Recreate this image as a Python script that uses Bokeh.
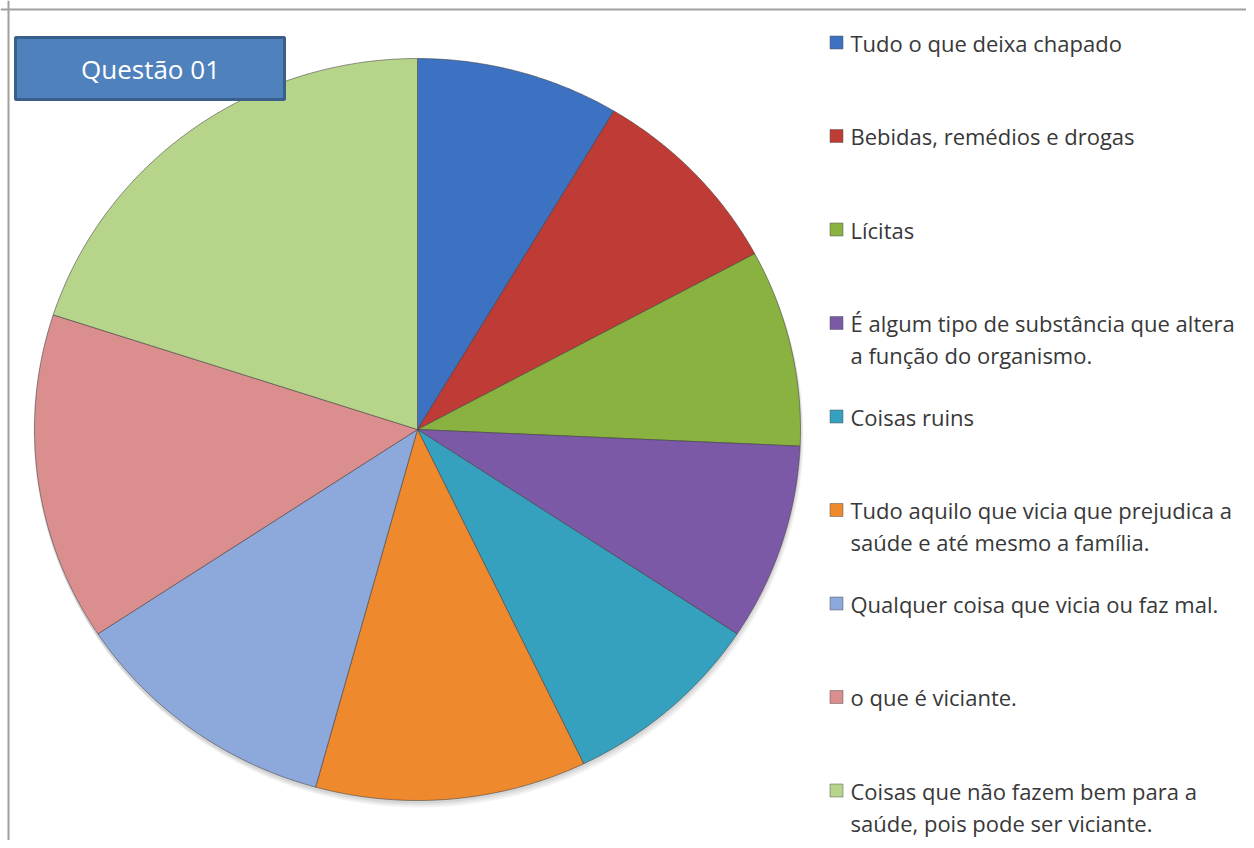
import numpy as np
from bokeh.plotting import figure
from bokeh.models import Range1d, Span
from bokeh.core.properties import value
from bokeh.embed import file_html
from bokeh.resources import INLINE

# ---- data ----
categories = [
    "Tudo o que deixa chapado",
    "Bebidas, remédios e drogas",
    "Lícitas",
    "É algum tipo de substância que altera\na função do organismo.",
    "Coisas ruins",
    "Tudo aquilo que vicia que prejudica a\nsaúde e até mesmo a família.",
    "Qualquer coisa que vicia ou faz mal.",
    "o que é viciante.",
    "Coisas que não fazem bem para a\nsaúde, pois pode ser viciante.",
]
counts = [3, 3, 3, 3, 3, 4, 4, 5, 7]
colors = ["#3D71C2", "#BE3B36", "#8AB240", "#7B59A6", "#35A1BE",
          "#EF892D", "#8DA8DA", "#DB8E8E", "#B7D48B"]
title_text = "Questão 01"

W, H = 1246, 840
p = figure(width=W, height=H, output_backend="svg", toolbar_location=None,
           x_range=Range1d(0, W), y_range=Range1d(H, 0),
           min_border=0, outline_line_color=None, background_fill_color="white")
p.axis.visible = False
p.grid.visible = False

# chart border (left/top)
p.add_layout(Span(location=8, dimension="height", line_color="#A0A0A0", line_width=2))
p.add_layout(Span(location=9, dimension="width", line_color="#A0A0A0", line_width=2))

# pie geometry (slightly elliptical, like the Excel original)
cx, cy, rx, ry = 417, 429, 383, 371

# soft shadow
for dx, dy, a in [(2, 6, 0.10), (1, 4, 0.12), (0, 2, 0.15)]:
    p.ellipse(x=cx + dx, y=cy + dy, width=2 * rx + 2, height=2 * ry + 2,
              fill_color="#808080", fill_alpha=a, line_color=None)

vals = np.array(counts, dtype=float)
frac_end = np.cumsum(vals) / vals.sum()
frac_start = frac_end - vals / vals.sum()
xs, ys = [], []
for f0, f1 in zip(frac_start, frac_end):
    th = np.linspace(f0, f1, 80) * 2 * np.pi
    xs.append([cx] + list(cx + rx * np.sin(th)))
    ys.append([cy] + list(cy - ry * np.cos(th)))
p.patches(xs, ys, fill_color=colors, line_color="#404040", line_alpha=0.55, line_width=1)

# title box
p.quad(left=15, right=284, top=37, bottom=99, fill_color="#4F81BD",
       line_color="#3A5F8C", line_width=3)
p.text(x=[150], y=[68], text=[title_text], text_align="center", text_baseline="middle",
       text_color="white", text_font=value("Open Sans"), text_font_size="26px")

# legend
lx_m, lx_t = 836, 850
y0, step, lh = 42, 93.5, 32
for i, (lab, c) in enumerate(zip(categories, colors)):
    yy = y0 + i * step
    p.rect(x=lx_m, y=yy, width=13, height=13, fill_color=c, line_color="#555555",
           line_alpha=0.5, line_width=1)
    for j, line in enumerate(lab.split("\n")):
        p.text(x=[lx_t], y=[yy + j * lh], text=[line], text_baseline="middle",
               text_color="#383838", text_font=value("Open Sans"), text_font_size="22px")

open("out.html", "w").write(file_html(p, INLINE))
